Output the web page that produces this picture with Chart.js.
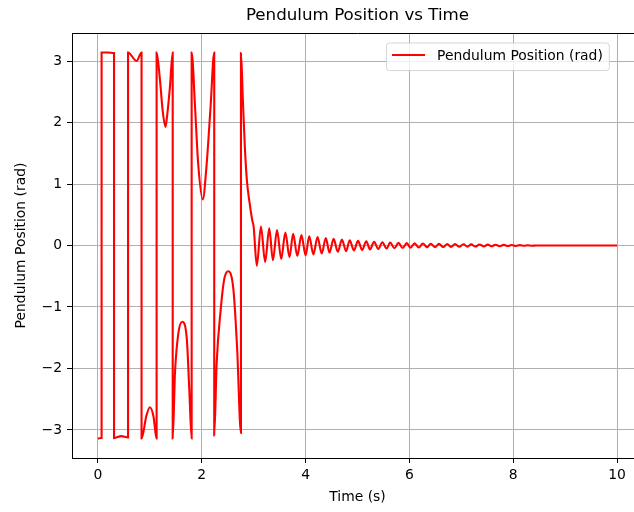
<!DOCTYPE html>
<html>
<head>
<meta charset="utf-8">
<script src="https://cdn.jsdelivr.net/npm/chart.js@4.4.0/dist/chart.umd.min.js"></script>
<style>
html,body{margin:0;padding:0;overflow:hidden;background:#fff;width:634px;height:512px}
canvas{display:block}
</style>
</head>
<body>
<canvas id="c" width="643" height="512"></canvas>
<script>
// ---- data ----
const chartTitle = 'Pendulum Position vs Time';
const seriesLabel = 'Pendulum Position (rad)';
const xTitle = 'Time (s)';
const yTitle = 'Pendulum Position (rad)';
const xTicks = [0, 2, 4, 6, 8, 10];
const yTicks = [-3, -2, -1, 0, 1, 2, 3];

// swing-up phase (angle wraps between -pi and +pi)
const swingTime = [
  0.00, 0.07, 0.07, 0.19, 0.31, 0.31, 0.45, 0.58, 0.58, 0.745, 0.84, 0.84,
  0.93, 1.00, 1.07, 1.13, 1.13, 1.195, 1.246, 1.30, 1.32, 1.387, 1.44, 1.44,
  1.484, 1.55, 1.625, 1.71, 1.76, 1.805, 1.805, 1.87, 1.93, 2.02, 2.09, 2.17,
  2.24, 2.24, 2.287, 2.364, 2.43, 2.51, 2.61, 2.68, 2.755, 2.755, 2.79, 2.83,
  2.87, 2.92, 2.97, 3.00
];
const swingAngle = [
  -3.14, -3.13, 3.14, 3.14, 3.13, -3.13, -3.10, -3.12, 3.14, 3.00, 3.14, -3.14,
  -2.78, -2.63, -2.78, -3.14, 3.14, 2.69, 2.20, 1.93, 2.02, 2.58, 3.14, -3.14,
  -2.07, -1.42, -1.24, -1.50, -2.35, -3.14, 3.14, 2.26, 1.34, 0.75, 1.28, 2.26,
  3.14, -3.09, -1.91, -1.05, -0.56, -0.42, -0.72, -1.65, -3.05, 3.13, 2.40, 1.60,
  1.05, 0.70, 0.42, 0.30
];

// balancing phase: damped ringing around 0 (peaks and troughs)
const settleTime = [
  3.06, 3.14, 3.22, 3.30, 3.37, 3.45, 3.53, 3.61, 3.69, 3.76,
  3.84, 3.92, 4.00, 4.07, 4.15, 4.23, 4.31, 4.39, 4.46, 4.54,
  4.62, 4.70, 4.78, 4.85, 4.93, 5.01, 5.09, 5.17, 5.24, 5.32,
  5.40, 5.48, 5.56, 5.63, 5.71, 5.79, 5.87, 5.95, 6.02, 6.10,
  6.18, 6.26, 6.34, 6.41, 6.49, 6.57, 6.65, 6.73, 6.80, 6.88,
  6.96, 7.04, 7.12, 7.19, 7.27, 7.35, 7.43, 7.51, 7.58, 7.66,
  7.74, 7.82, 7.90, 7.97, 8.05, 8.13, 8.21, 8.28, 8.36, 8.44,
  10.00
];
const settleAngle = [
  -0.33, 0.31, -0.27, 0.28, -0.24, 0.25, -0.22, 0.21, -0.19, 0.19,
  -0.17, 0.17, -0.16, 0.15, -0.145, 0.137, -0.129, 0.122, -0.115, 0.108,
  -0.102, 0.096, -0.091, 0.086, -0.081, 0.076, -0.072, 0.068, -0.064, 0.060,
  -0.057, 0.054, -0.050, 0.048, -0.045, 0.042, -0.040, 0.038, -0.036, 0.035,
  -0.033, 0.032, -0.030, 0.029, -0.028, 0.026, -0.025, 0.024, -0.023, 0.022,
  -0.021, 0.020, -0.019, 0.018, -0.017, 0.016, -0.015, 0.014, -0.013, 0.012,
  -0.011, 0.010, -0.009, 0.008, -0.007, 0.006, -0.005, 0.004, -0.003, 0.000,
  0.000
];

// ---- build chart ----
const times = swingTime.concat(settleTime);
const angles = swingAngle.concat(settleAngle);
const points = times.map((t, i) => ({ x: t, y: angles[i] }));

const FONT = "'DejaVu Sans', 'Liberation Sans', sans-serif";
const minus = v => (v < 0 ? '\u2212' : '') + Math.abs(v);

const decor = {
  id: 'decor',
  afterDatasetsDraw(chart) {
    const { ctx, chartArea: a } = chart;
    ctx.save();
    ctx.strokeStyle = '#000';
    ctx.lineWidth = 1;
    ctx.beginPath();
    ctx.moveTo(a.left, Math.round(a.top) + 0.5);
    ctx.lineTo(a.right, Math.round(a.top) + 0.5);
    ctx.moveTo(Math.round(a.right) - 0.5, a.top);
    ctx.lineTo(Math.round(a.right) - 0.5, a.bottom);
    ctx.stroke();
    ctx.restore();
  },
  afterDraw(chart) {
    const { ctx, chartArea: a } = chart;
    ctx.save();
    // title
    ctx.fillStyle = '#000';
    ctx.font = '16.7px ' + FONT;
    ctx.textAlign = 'center';
    ctx.textBaseline = 'middle';
    ctx.fillText(chartTitle, (a.left + a.right) / 2, 16);
    // legend
    ctx.font = '13.9px ' + FONT;
    const label = chart.data.datasets[0].label;
    const tw = ctx.measureText(label).width;
    const bx = 386, by = 42.5, bh = 27.5;
    const tx = 437;
    const bw = (tx + tw + 6) - bx;
    ctx.beginPath();
    ctx.roundRect(bx + 0.5, by + 0.5, bw, bh, 3);
    ctx.fillStyle = 'rgba(255,255,255,0.8)';
    ctx.fill();
    ctx.strokeStyle = 'rgba(204,204,204,0.8)';
    ctx.lineWidth = 1;
    ctx.stroke();
    ctx.strokeStyle = chart.data.datasets[0].borderColor;
    ctx.lineWidth = 2.1;
    ctx.beginPath();
    ctx.moveTo(392, 55);
    ctx.lineTo(425, 55);
    ctx.stroke();
    ctx.fillStyle = '#000';
    ctx.textAlign = 'left';
    ctx.textBaseline = 'middle';
    ctx.fillText(label, tx, 56);
    ctx.restore();
  }
};

new Chart(document.getElementById('c'), {
  type: 'line',
  data: {
    datasets: [{
      label: seriesLabel,
      data: points,
      borderColor: '#ff0000',
      borderWidth: 2.1,
      pointRadius: 0,
      fill: false,
      cubicInterpolationMode: 'monotone'
    }]
  },
  options: {
    responsive: false,
    animation: false,
    devicePixelRatio: 1,
    layout: { padding: { top: 33, left: 0, right: 0, bottom: 0 } },
    plugins: { legend: { display: false }, title: { display: false }, tooltip: { enabled: false } },
    scales: {
      x: {
        type: 'linear',
        min: -0.5,
        max: 10.5,
        afterFit(s) { s.height = 54; },
        afterBuildTicks(s) { s.ticks = xTicks.map(v => ({ value: v })); },
        grid: { color: '#b0b0b0', lineWidth: 1, drawTicks: true, tickLength: 5, tickColor: '#000', tickWidth: 1 },
        border: { display: true, color: '#000', width: 1 },
        ticks: { color: '#000', font: { family: FONT, size: 13.9 }, padding: 4, maxRotation: 0, autoSkip: false, callback: minus },
        title: { display: true, text: xTitle, color: '#000', font: { family: FONT, size: 13.9 }, padding: { top: 0, bottom: 6.5 } }
      },
      y: {
        type: 'linear',
        min: -3.456,
        max: 3.456,
        afterFit(s) { s.width = 72; },
        afterBuildTicks(s) { s.ticks = yTicks.map(v => ({ value: v })); },
        grid: { color: '#b0b0b0', lineWidth: 1, drawTicks: true, tickLength: 5, tickColor: '#000', tickWidth: 1 },
        border: { display: true, color: '#000', width: 1 },
        ticks: { color: '#000', font: { family: FONT, size: 13.9 }, padding: 5, autoSkip: false, callback: minus },
        title: { display: true, text: yTitle, color: '#000', font: { family: FONT, size: 13.9 }, padding: { top: 13, bottom: 0 } }
      }
    }
  },
  plugins: [decor]
});
</script>
</body>
</html>
